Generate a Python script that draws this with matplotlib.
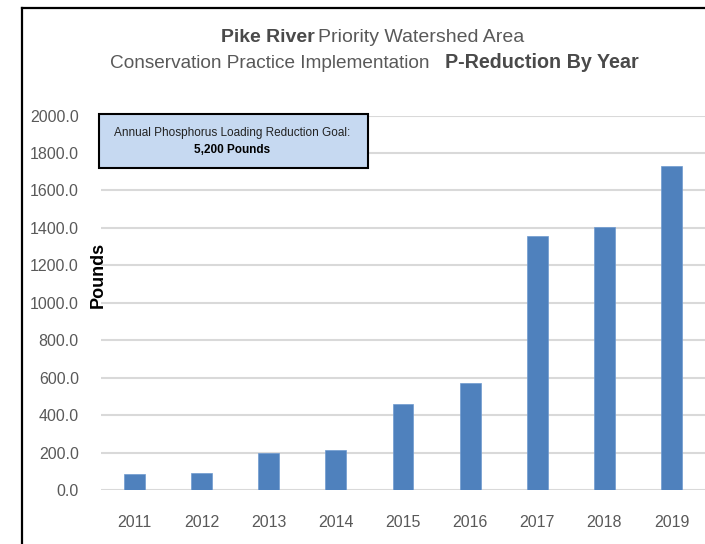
import matplotlib
matplotlib.use("Agg")
import matplotlib.pyplot as plt
from matplotlib.patches import Rectangle
from matplotlib.lines import Line2D

# dados do gráfico
anos = ["2011", "2012", "2013", "2014", "2015", "2016", "2017", "2018", "2019"]
libras = [87, 93, 200, 212, 457, 572, 1356, 1404, 1730]
y_ticks = [0, 200, 400, 600, 800, 1000, 1200, 1400, 1600, 1800, 2000]

W, H = 705, 544
fonte = ["Liberation Sans", "DejaVu Sans"]
cinza = "#595959"

fig = plt.figure(figsize=(W / 100, H / 100), dpi=100)
fig.patch.set_facecolor("white")

def fx(px):
    return px / W

def fy(py):
    return 1 - py / H

# eixo principal
ax = fig.add_axes([fx(101), fy(490), fx(705) - fx(101), fy(115.5) - fy(490)])
x = range(len(anos))
ax.bar(x, libras, width=0.31, color="#4F81BD", edgecolor="#6E9AD0", linewidth=0.5, zorder=3)
ax.set_xlim(-0.5, len(anos) - 0.5)
ax.set_ylim(0, 2000)
ax.set_yticks(y_ticks)
ax.set_yticklabels([f"{v:.1f}" for v in y_ticks], family=fonte, fontsize=11.5, color=cinza)
ax.set_xticks(list(x))
ax.set_xticklabels(anos, family=fonte, fontsize=11.5, color=cinza)
ax.tick_params(axis="y", length=0, pad=16)
ax.tick_params(axis="x", length=0, pad=18)
ax.grid(axis="y", color="#D9D9D9", linewidth=1.5, zorder=0)
for s in ax.spines.values():
    s.set_visible(False)
ax.set_facecolor("white")

# rótulo do eixo y
fig.text(fx(98), fy(275), "Pounds", rotation=90, ha="center", va="center",
         family=fonte, fontweight="bold", fontsize=13, color="black")

# título em duas linhas
fig.text(fx(315), fy(38), "Pike River", ha="right", va="center", family=fonte,
         fontweight="bold", fontsize=14, color="#4a4a4a")
fig.text(fx(318), fy(38), "Priority Watershed Area", ha="left", va="center", family=fonte,
         fontsize=14, color=cinza)
fig.text(fx(430), fy(63), "Conservation Practice Implementation", ha="right", va="center",
         family=fonte, fontsize=13.7, color=cinza)
fig.text(fx(445), fy(63), "P-Reduction By Year", ha="left", va="center", family=fonte,
         fontweight="bold", fontsize=14.2, color="#4a4a4a")

# caixa da meta
caixa = Rectangle((fx(99), fy(168)), fx(368) - fx(99), fy(114) - fy(168),
                  transform=fig.transFigure, facecolor="#C6D9F1", edgecolor="black",
                  linewidth=1.5, zorder=5)
fig.patches.append(caixa)
fig.text(fx(232), fy(133), "Annual Phosphorus Loading Reduction Goal:", ha="center", va="center",
         family=fonte, fontsize=8.5, color="#222222", zorder=6)
fig.text(fx(232), fy(150), "5,200 Pounds", ha="center", va="center", family=fonte,
         fontweight="bold", fontsize=8.5, color="black", zorder=6)

# moldura (esquerda e topo)
fig.lines.append(Line2D([fx(22), fx(22)], [0, fy(8)], transform=fig.transFigure,
                        color="black", linewidth=1.6))
fig.lines.append(Line2D([fx(22), 1], [fy(8), fy(8)], transform=fig.transFigure,
                        color="black", linewidth=1.6))

fig.savefig("out.png", dpi=100)
